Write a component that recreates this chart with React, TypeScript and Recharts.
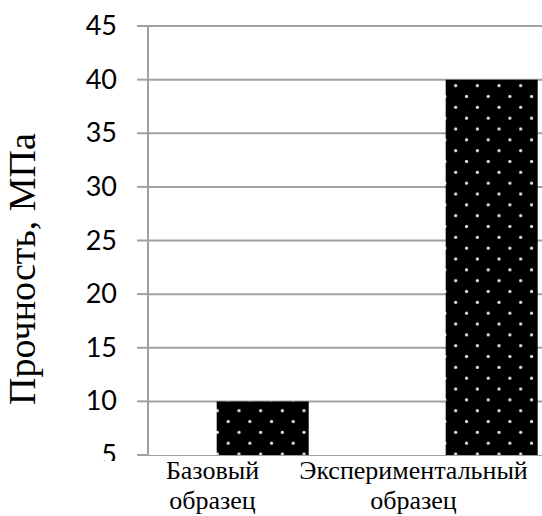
import { BarChart, Bar, XAxis, YAxis, CartesianGrid, ReferenceArea } from "recharts";

const categories = ["Базовый образец", "Экспериментальный образец"];
const strength = [10, 40];
const yTicks = [5, 10, 15, 20, 25, 30, 35, 40, 45];
const yTitle = "Прочность, МПа";

const data = categories.map((name, i) => ({ name, value: strength[i] }));

const gray = "#a0a0a0";
const serif = "'Liberation Serif', 'Times New Roman', serif";

// label offsets from band centre (the original labels sit left of the bars)
const labelShift = [-50, -78];

function CategoryTick(props: any) {
  const { x, y, payload, index } = props;
  const words = String(payload.value).split(" ");
  const cx = x + (labelShift[index] || 0);
  return (
    <g>
      <text x={cx} y={y + 24} textAnchor="middle" fontFamily={serif} fontSize={26} fill="#000">
        {words[0]}
      </text>
      <text x={cx} y={y + 54} textAnchor="middle" fontFamily={serif} fontSize={26} fill="#000">
        {words[1]}
      </text>
    </g>
  );
}

function ValueTick(props: any) {
  const { x, y, payload } = props;
  return (
    <text
      x={x}
      y={y}
      dy={9}
      textAnchor="end"
      fontFamily="Lato, 'Open Sans', sans-serif"
      fontSize={27}
      fill="#000"
      clipPath="url(#tickClip)"
    >
      {payload.value}
    </text>
  );
}

export default function App() {
  return (
    <div style={{ position: "absolute", left: 0, top: 0, width: 542, height: 516, overflow: "hidden" }}>
      <BarChart
        width={648}
        height={516}
        data={data}
        margin={{ top: 26, right: 42, bottom: 31, left: 0 }}
        barCategoryGap="30%"
      >
        <defs>
          <pattern id="dots" patternUnits="userSpaceOnUse" x={450.3} y={80.3} width={21.67} height={21.67}>
            <rect width={21.67} height={21.67} fill="#000" />
            <circle cx={5.4} cy={5.4} r={1.6} fill="#e8e8e8" />
            <circle cx={16.25} cy={16.25} r={1.6} fill="#e8e8e8" />
          </pattern>
          <clipPath id="tickClip">
            <rect x={0} y={0} width={148} height={461} />
          </clipPath>
        </defs>
        <CartesianGrid vertical={false} stroke={gray} strokeWidth={2} />
        <XAxis
          dataKey="name"
          height={30}
          axisLine={false}
          tickLine={false}
          tickSize={0}
          tickMargin={0}
          tick={<CategoryTick />}
          interval={0}
        />
        <YAxis
          width={148}
          domain={[5, 45]}
          ticks={yTicks}
          interval={0}
          axisLine={{ stroke: gray, strokeWidth: 2 }}
          tickLine={{ stroke: gray, strokeWidth: 2 }}
          tickSize={11}
          tickMargin={20}
          tick={<ValueTick />}
          label={{
            content: () => (
              <text
                x={35}
                y={269}
                transform="rotate(-90 35 269)"
                textAnchor="middle"
                fontFamily={serif}
                fontSize={38}
                fill="#000"
              >
                {yTitle}
              </text>
            ),
          }}
        />
        <Bar dataKey="value" fill="url(#dots)" isAnimationActive={false} />
        <ReferenceArea y1={5} y2={5.75} fill="#fff" fillOpacity={1} stroke="none" ifOverflow="visible" />
      </BarChart>
    </div>
  );
}
